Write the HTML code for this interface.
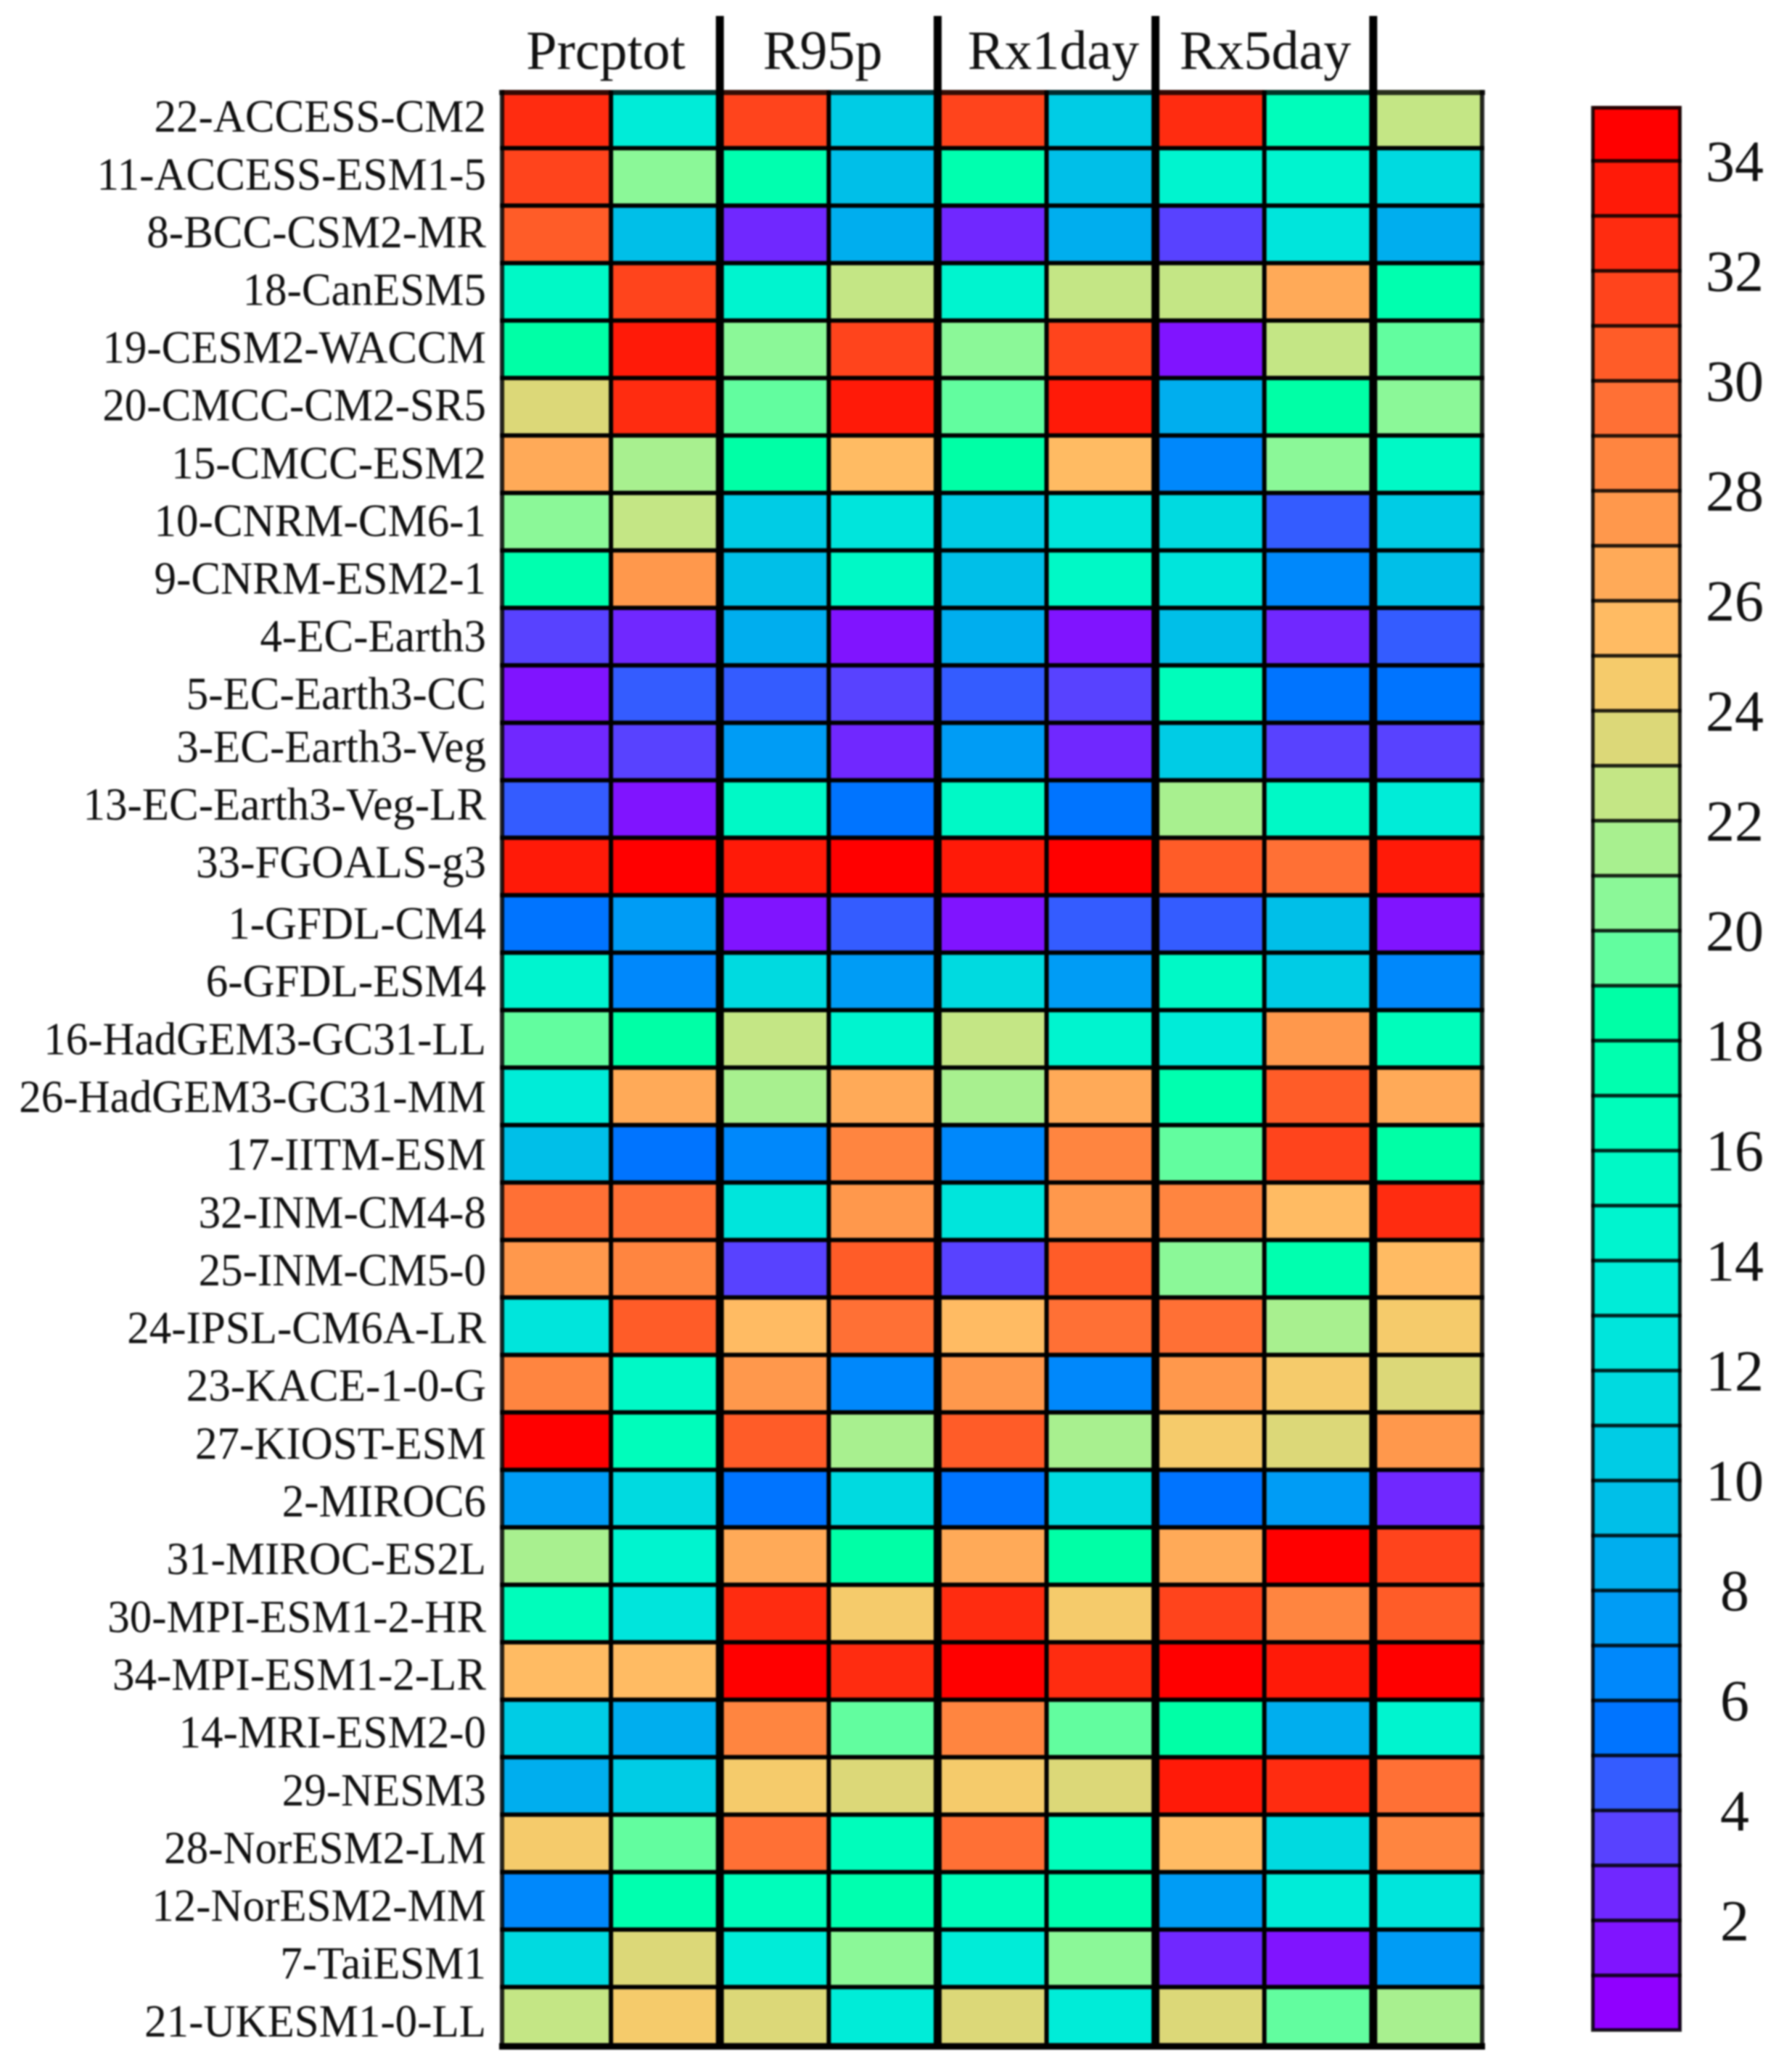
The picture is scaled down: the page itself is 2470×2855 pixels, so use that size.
<!DOCTYPE html>
<html lang="en">
<head>
<meta charset="utf-8">
<title>CMIP6 model ranking heatmap</title>
<style>
html,body{margin:0;padding:0;background:#fff;}
#chart{display:block;width:2470px;height:2855px;font-family:"Liberation Serif",serif;}
.soft{filter:blur(1px);}
</style>
</head>
<body>
<svg id="chart" xmlns="http://www.w3.org/2000/svg" width="2470" height="2855" viewBox="0 0 2470 2855">
  <g id="cells" class="soft"></g>
  <g id="gridlines" class="soft"></g>
  <g id="rowLabels" class="soft"></g>
  <g id="colLabels" class="soft"></g>
  <g id="colorbar" class="soft"></g>
</svg>
<script>
const models = ["22-ACCESS-CM2","11-ACCESS-ESM1-5","8-BCC-CSM2-MR","18-CanESM5","19-CESM2-WACCM","20-CMCC-CM2-SR5","15-CMCC-ESM2","10-CNRM-CM6-1","9-CNRM-ESM2-1","4-EC-Earth3","5-EC-Earth3-CC","3-EC-Earth3-Veg","13-EC-Earth3-Veg-LR","33-FGOALS-g3","1-GFDL-CM4","6-GFDL-ESM4","16-HadGEM3-GC31-LL","26-HadGEM3-GC31-MM","17-IITM-ESM","32-INM-CM4-8","25-INM-CM5-0","24-IPSL-CM6A-LR","23-KACE-1-0-G","27-KIOST-ESM","2-MIROC6","31-MIROC-ES2L","30-MPI-ESM1-2-HR","34-MPI-ESM1-2-LR","14-MRI-ESM2-0","29-NESM3","28-NorESM2-LM","12-NorESM2-MM","7-TaiESM1","21-UKESM1-0-LL"];
const groupHeaders = ["Prcptot","R95p","Rx1day","Rx5day"];
const prcptotA = [32,31,30,15,18,23,26,20,17,3,1,2,4,33,5,14,19,13,9,29,27,12,28,34,7,21,16,25,10,8,24,6,11,22];
const prcptotB = [13,20,9,31,33,32,21,22,27,2,4,3,1,34,7,6,18,26,5,29,28,30,15,16,11,14,12,25,8,10,19,17,23,24];
const r95pA = [31,17,2,14,20,19,18,10,9,8,4,7,15,33,1,11,22,21,6,12,3,25,27,30,5,26,32,34,28,24,29,16,13,23];
const r95pB = [10,9,8,22,31,33,25,12,15,1,3,2,5,34,4,7,14,26,28,27,30,29,6,21,11,18,24,32,19,23,16,17,20,13];
const rx1dayA = [31,17,2,14,20,19,18,10,9,8,4,7,15,33,1,11,22,21,6,12,3,25,27,30,5,26,32,34,28,24,29,16,13,23];
const rx1dayB = [10,9,8,22,31,33,25,12,15,1,3,2,5,34,4,7,14,26,28,27,30,29,6,21,11,18,24,32,19,23,16,17,20,13];
const rx5dayA = [32,14,3,22,1,8,6,11,12,9,16,10,21,30,4,15,13,17,19,28,20,29,27,24,5,26,31,34,18,33,25,7,2,23];
const rx5dayB = [16,14,12,26,22,18,20,4,6,2,5,3,15,29,9,10,27,30,31,25,17,21,24,23,7,34,28,33,8,32,11,13,1,19];
const lastColumn = [22,11,8,17,19,20,15,10,9,4,5,3,13,33,1,6,16,26,18,32,25,24,23,27,2,31,30,34,14,29,28,12,7,21];
const colorbarTicks = [2,4,6,8,10,12,14,16,18,20,22,24,26,28,30,32,34];
const binColors = ["#9000ff","#8014ff","#7028ff","#5842ff","#345cff","#0074ff","#0088fb","#009cf5","#00aeee","#00bfe8","#00cce5","#00dae0","#00e5dc","#00ecd8","#00f4cf","#00f9c6","#00fdbb","#00ffaf","#00ffa6","#62fd9f","#8bf898","#a8f08f","#c4e685","#dcd878","#f5cb6b","#ffbb63","#ffaa58","#ff984c","#ff8540","#ff7035","#ff5c28","#ff441c","#ff2c10","#ff1a08","#ff0000"];

const columns = [prcptotA,prcptotB,r95pA,r95pB,rx1dayA,rx1dayB,rx5dayA,rx5dayB,lastColumn];
const NS = "http://www.w3.org/2000/svg";
function xScale(j){ return 692 + 150.1 * j; }
function yScale(i){ return 125 + 79.22 * i; }
function barScale(v){ return 2799 - 75.8 * v; }
function labelBaseline(i){
  if (i <= 10) return 181.7 + 79.6 * i;
  if (i <= 13) return 174.7 + 79.6 * i;
  return 1294 + 79.65 * (i - 14);
}
function colorFor(v){ return binColors[Math.max(0, Math.min(binColors.length - 1, Math.floor(v)))]; }
function make(tag, attrs, parent){
  const el = document.createElementNS(NS, tag);
  for (const k in attrs) el.setAttribute(k, attrs[k]);
  parent.appendChild(el);
  return el;
}
const cellsG = document.getElementById("cells");
const gridG = document.getElementById("gridlines");
const rowG = document.getElementById("rowLabels");
const colG = document.getElementById("colLabels");
const barG = document.getElementById("colorbar");

columns.forEach(function(col, j){
  col.forEach(function(v, i){
    const r = make("rect", {x:xScale(j), y:yScale(i), width:xScale(j+1)-xScale(j), height:yScale(i+1)-yScale(i), fill:colorFor(v)}, cellsG);
    
    
  });
});
for (let i = 1; i < models.length; i++){
  const l = make("rect", {x:xScale(0)-3, y:yScale(i)-3, width:xScale(9)-xScale(0)+6, height:6, fill:"#000"}, gridG);
  
  
}
for (let j = 1; j < columns.length; j += 2){
  const l = make("rect", {x:xScale(j)-3, y:yScale(0), width:6, height:yScale(34)-yScale(0), fill:"#000"}, gridG);
  
  
}
for (let j = 2; j < columns.length; j += 2){
  const l = make("rect", {x:xScale(j)-5.5, y:22, width:11, height:yScale(34)-22, fill:"#000"}, gridG);
  
  
}
const frameTop = make("rect", {x:xScale(0)-4, y:124, width:xScale(9)-xScale(0)+8, height:7, fill:"#000", opacity:"0.8"}, gridG);


const frameBottom = make("rect", {x:xScale(0)-4, y:yScale(34)-2, width:xScale(9)-xScale(0)+8, height:9, fill:"#000"}, gridG);


const frameLeft = make("rect", {x:xScale(0)-3, y:124, width:6, height:yScale(34)-117, fill:"#000", opacity:"0.85"}, gridG);


const frameRight = make("rect", {x:xScale(9)-3, y:124, width:6, height:yScale(34)-117, fill:"#000", opacity:"0.85"}, gridG);



models.forEach(function(m, i){
  const t = make("text", {x:0, y:0, transform:"translate(670 " + labelBaseline(i) + ") scale(1 1.05)", "text-anchor":"end", "font-size":"61", fill:"#111"}, rowG);
  t.textContent = m;
  
  
});
groupHeaders.forEach(function(h, g){
  const cx = g === 0 ? 835 : g === 1 ? 1134 : g === 2 ? 1452 : 1744;
  const t = make("text", {x:cx, y:95, "text-anchor":"middle", "font-size":"76", fill:"#111"}, colG);
  t.textContent = h;
  
  
});

binColors.forEach(function(c, v){
  const r = make("rect", {x:2195, y:barScale(v+1), width:122, height:barScale(v)-barScale(v+1), fill:c}, barG);
  
  
});
for (let v = 1; v < binColors.length; v++){
  const l = make("rect", {x:2193, y:barScale(v)-2.5, width:125, height:5, fill:"#000", opacity:"0.85"}, barG);
  
  
}
const barFrame = make("rect", {x:2195.5, y:barScale(35)+2.5, width:120, height:barScale(0)-barScale(35)-3, fill:"none", stroke:"#000", "stroke-width":"5", "stroke-opacity":"0.85"}, barG);


colorbarTicks.forEach(function(v){
  const t = make("text", {x:2391, y:barScale(v)+27.5, "text-anchor":"middle", "font-size":"80", fill:"#111"}, barG);
  t.textContent = String(v);
  
  
});
</script>
</body>
</html>
